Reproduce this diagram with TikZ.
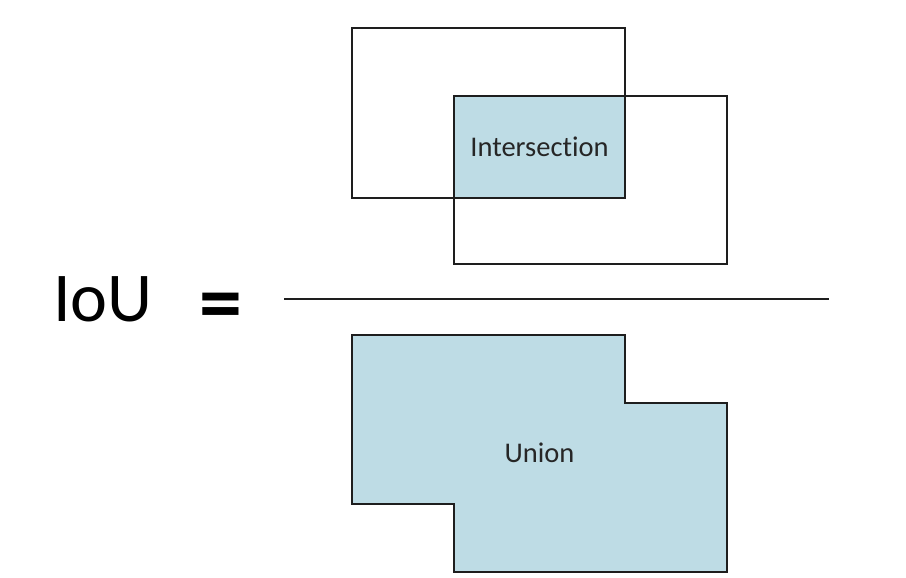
\documentclass[tikz,border=0pt]{standalone}
\usepackage{fontspec}
\setmainfont[Ligatures={NoCommon,NoRare}]{Carlito}
\definecolor{boxfill}{RGB}{190,220,229}
\definecolor{edge}{RGB}{30,30,30}
\begin{document}
\begin{tikzpicture}[x=1pt,y=-1pt,
  boxline/.style={draw=edge,line width=1.5pt},
  label/.style={font=\fontsize{28.5}{32}\selectfont,text=black!85}]
\useasboundingbox (0,0) rectangle (906,578);
% intersection fill
\fill[boxfill] (454,96) rectangle (625,198);
% boxes
\draw[boxline] (352,28) rectangle (625,198);
\draw[boxline] (454,96) rectangle (727,264);
\node[label] (inter) at (539.5,147) {Intersection};
% fraction line
\coordinate (fl) at (284,299);
\coordinate (fr) at (829,299);
\draw[line width=1.3pt,edge] (fl) -- (fr);
% union
\draw[boxline,fill=boxfill] (352,335) -- (625,335) -- (625,403) -- (727,403) -- (727,572) -- (454,572) -- (454,504) -- (352,504) -- cycle;
\node[label] (union) at (539.5,453) {Union};
% IoU =
\node[font=\fontsize{70}{74}\selectfont] (iou) at (103,299) {IoU};
\node[font=\bfseries\fontsize{86}{90}\selectfont] (eq) at (221,312) {=};
\end{tikzpicture}
\end{document}
